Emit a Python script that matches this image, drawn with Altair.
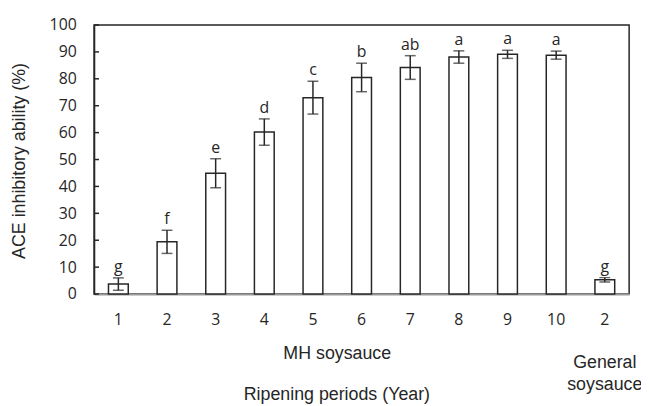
import altair as alt
import pandas as pd

categories = ["1", "2", "3", "4", "5", "6", "7", "8", "9", "10", "G2"]
x_labels = ["1", "2", "3", "4", "5", "6", "7", "8", "9", "10", "2"]
values = [3.7, 19.4, 44.9, 60.2, 73.0, 80.5, 84.2, 88.1, 89.1, 88.8, 5.3]
errors = [2.3, 4.3, 5.4, 4.9, 6.1, 5.3, 4.4, 2.3, 1.5, 1.5, 0.8]
letters = ["g", "f", "e", "d", "c", "b", "ab", "a", "a", "a", "g"]
y_ticks = [0, 10, 20, 30, 40, 50, 60, 70, 80, 90, 100]
group_names = ["MH soysauce", "General\nsoysauce"]
group_anchor = ["5", "G2"]

df = pd.DataFrame({
    "cat": categories,
    "value": values,
    "low": [v - e for v, e in zip(values, errors)],
    "high": [v + e for v, e in zip(values, errors)],
    "letter": letters,
})
ticks_df = pd.DataFrame({"t": y_ticks})

W, H = 541, 272
INK = "#262626"
TICK_FONT = "Open Sans"
TITLE_FONT = "Liberation Sans"

label_expr = "{" + ",".join(f"'{c}':'{l}'" for c, l in zip(categories, x_labels)) + "}[datum.value]"

x_axis = alt.Axis(
    title="Ripening periods (Year)",
    labelAngle=0,
    labelExpr=label_expr,
    ticks=False,
    tickSize=0,
    labelPadding=18,
    labelFont=TICK_FONT,
    labelFontSize=16,
    labelColor=INK,
    domainColor="#9a9a9a",
    domainWidth=2,
    titleFont=TITLE_FONT,
    titleFontSize=18,
    titleFontWeight="normal",
    titleColor=INK,
    titleX=245,
    titleY=102,
    titleAlign="center",
    titleBaseline="middle",
)
x_scale = alt.Scale(paddingInner=0, paddingOuter=0)
y_scale = alt.Scale(domain=[0, 100], nice=False)
y_axis = alt.Axis(
    title="ACE inhibitory ability (%)",
    values=y_ticks,
    tickCount=11,
    labelOverlap=False,
    ticks=False,
    tickSize=0,
    grid=False,
    labelPadding=18,
    labelFont=TICK_FONT,
    labelFontSize=16,
    labelColor=INK,
    domainColor=INK,
    domainWidth=1.5,
    titleFont=TITLE_FONT,
    titleFontSize=18,
    titleFontWeight="normal",
    titleColor=INK,
    titleX=-75,
    titleY=137,
    titleAngle=-90,
    titleAlign="center",
    titleBaseline="middle",
)


def X(bp=None):
    if bp is None:
        return alt.X("cat:N", sort=categories, scale=x_scale, axis=x_axis)
    return alt.X("cat:N", sort=categories, scale=x_scale, axis=x_axis, bandPosition=bp)


def Y(field):
    return alt.Y(field, scale=y_scale, axis=y_axis)


bars = alt.Chart(df).mark_bar(
    size=20, fill="white", stroke=INK, strokeWidth=1.5
).encode(x=X(), y=Y("value:Q"))

err_rule = alt.Chart(df).mark_rule(color=INK, strokeWidth=1.5).encode(
    x=X(), y=Y("low:Q"), y2="high:Q"
)
cap_low = alt.Chart(df).mark_tick(color=INK, size=11, thickness=1.5, orient="horizontal").encode(
    x=X(), y=Y("low:Q")
)
cap_high = alt.Chart(df).mark_tick(color=INK, size=11, thickness=1.5, orient="horizontal").encode(
    x=X(), y=Y("high:Q")
)
letters_layer = alt.Chart(df).mark_text(
    font=TICK_FONT, fontSize=16, color=INK, baseline="alphabetic", dy=-6
).encode(x=X(), y=Y("high:Q"), text="letter:N")

y_tick_marks = alt.Chart(ticks_df).mark_rule(color=INK, strokeWidth=1.5).encode(
    y=Y("t:Q"), x=alt.value(0), x2=alt.value(5)
)

groups_df = pd.DataFrame({"name": group_names, "cat": group_anchor})
mh = alt.Chart(groups_df.iloc[[0]]).mark_text(
    font=TITLE_FONT, fontSize=18, color=INK, baseline="middle", align="center"
).encode(x=X(1.0), y=alt.value(333), text="name:N")
gen = alt.Chart(groups_df.iloc[[1]]).mark_text(
    font=TITLE_FONT, fontSize=18, color=INK, baseline="middle", align="center",
    lineBreak="\n", lineHeight=22
).encode(x=X(), y=alt.value(342), text="name:N")

chart = alt.layer(bars, err_rule, cap_low, cap_high, letters_layer, y_tick_marks, mh, gen).properties(
    width=W, height=H,
    background="white",
    autosize=alt.AutoSizeParams(type="none"),
    padding={"left": 87, "top": 15, "right": 12, "bottom": 110},
).configure_view(stroke=INK, strokeWidth=1.5)

chart.save("out.html", embed_options={"renderer": "svg", "actions": False})
